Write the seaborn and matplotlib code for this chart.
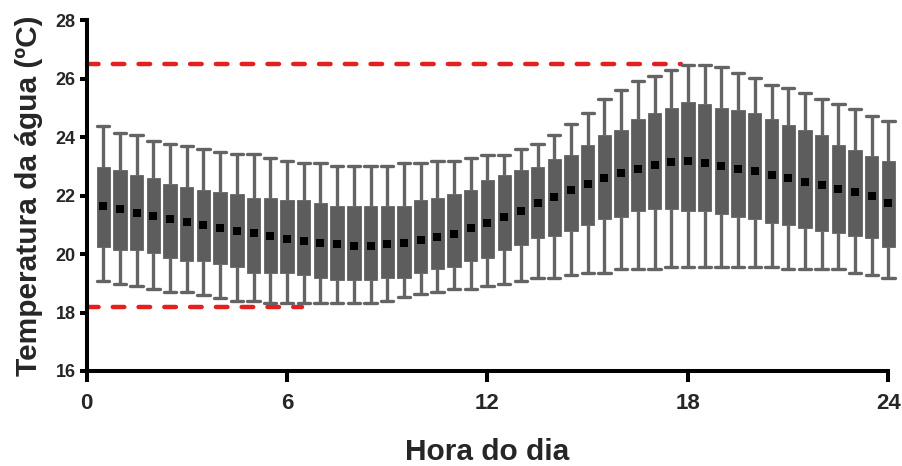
import numpy as np
import pandas as pd
import matplotlib
matplotlib.use("Agg")
import matplotlib.pyplot as plt
import seaborn as sns

# ---------------- data ----------------
hora = [0.5, 1.0, 1.5, 2.0, 2.5, 3.0, 3.5, 4.0, 4.5, 5.0,
        5.5, 6.0, 6.5, 7.0, 7.5, 8.0, 8.5, 9.0, 9.5, 10.0,
        10.5, 11.0, 11.5, 12.0, 12.5, 13.0, 13.5, 14.0, 14.5, 15.0,
        15.5, 16.0, 16.5, 17.0, 17.5, 18.0, 18.5, 19.0, 19.5, 20.0,
        20.5, 21.0, 21.5, 22.0, 22.5, 23.0, 23.5, 24.0]

bigode_inf = [19.09, 18.99, 18.91, 18.79, 18.69, 18.69, 18.60, 18.51, 18.40, 18.40,
              18.34, 18.34, 18.34, 18.34, 18.34, 18.34, 18.34, 18.40, 18.52, 18.62,
              18.69, 18.79, 18.79, 18.91, 18.99, 19.09, 19.19, 19.19, 19.28, 19.37,
              19.37, 19.48, 19.48, 19.48, 19.57, 19.57, 19.57, 19.57, 19.57, 19.57,
              19.57, 19.48, 19.48, 19.48, 19.48, 19.37, 19.28, 19.19]

quartil_1 = [20.24, 20.15, 20.15, 20.03, 19.86, 19.75, 19.75, 19.66, 19.57, 19.37,
             19.37, 19.37, 19.28, 19.19, 19.10, 19.10, 19.10, 19.17, 19.17, 19.37,
             19.49, 19.57, 19.75, 19.86, 20.15, 20.32, 20.54, 20.62, 20.80, 20.99,
             21.20, 21.28, 21.48, 21.56, 21.56, 21.47, 21.47, 21.38, 21.28, 21.20,
             21.08, 20.98, 20.90, 20.80, 20.72, 20.62, 20.54, 20.25]

mediana = [21.65, 21.54, 21.40, 21.31, 21.20, 21.10, 20.99, 20.90, 20.80, 20.71,
           20.62, 20.52, 20.44, 20.38, 20.33, 20.29, 20.29, 20.33, 20.39, 20.48,
           20.57, 20.70, 20.88, 21.07, 21.26, 21.49, 21.75, 21.96, 22.18, 22.39,
           22.60, 22.79, 22.92, 23.05, 23.16, 23.18, 23.11, 23.03, 22.92, 22.83,
           22.71, 22.59, 22.46, 22.35, 22.22, 22.12, 22.00, 21.75]

quartil_3 = [22.99, 22.89, 22.70, 22.61, 22.40, 22.31, 22.21, 22.13, 22.04, 21.93,
             21.93, 21.84, 21.84, 21.74, 21.64, 21.64, 21.64, 21.64, 21.64, 21.84,
             21.93, 22.04, 22.21, 22.52, 22.70, 22.89, 22.99, 23.27, 23.38, 23.75,
             24.06, 24.23, 24.64, 24.82, 25.01, 25.21, 25.12, 25.01, 24.92, 24.82,
             24.64, 24.43, 24.23, 24.06, 23.75, 23.56, 23.37, 23.17]

bigode_sup = [24.38, 24.15, 24.07, 23.87, 23.78, 23.69, 23.58, 23.50, 23.41, 23.41,
              23.29, 23.20, 23.12, 23.12, 23.01, 23.01, 23.01, 23.01, 23.12, 23.12,
              23.18, 23.18, 23.28, 23.38, 23.38, 23.58, 23.76, 24.07, 24.44, 24.84,
              25.32, 25.62, 25.91, 26.10, 26.31, 26.48, 26.48, 26.39, 26.21, 26.01,
              25.80, 25.70, 25.52, 25.32, 25.12, 24.95, 24.73, 24.55]

limite_valor = [26.5, 18.2]
limite_fim = [17.8, 6.45]

x_ticks = [0, 6, 12, 18, 24]
y_ticks = [16, 18, 20, 22, 24, 26, 28]

# ---------------- long table for seaborn ----------------
rows = []
for h, a, b, c, d, e in zip(hora, bigode_inf, quartil_1, mediana, quartil_3, bigode_sup):
    for v in (a, b, c, d, e):
        rows.append((h, v))
df = pd.DataFrame(rows, columns=["hora", "temp"])

sns.set_style("ticks")
plt.rcParams["font.family"] = ["Liberation Sans", "DejaVu Sans"]

fig = plt.figure(figsize=(9.02, 4.66), dpi=100)
ax = fig.add_axes([0.0959, 0.2039, 0.8891, 0.7525])

gray = "#5d5d5d"
sns.boxplot(data=df, x="hora", y="temp", native_scale=True, whis=(0, 100),
            width=0.8, color=gray, saturation=1, linecolor="#646464", linewidth=2.4,
            fliersize=0, boxprops=dict(linewidth=0.6),
            medianprops=dict(linewidth=0), capwidths=0.37, ax=ax, zorder=2)

sns.scatterplot(x=hora, y=mediana, marker="s", s=36, color="black",
                linewidth=0, zorder=5, legend=False, ax=ax)

for yv, fim in zip(limite_valor, limite_fim):
    ax.plot([0, fim], [yv, yv], color="#e41f1f", lw=3.2,
            linestyle=(0, (2.6, 3.2)), dash_capstyle="round", zorder=1)

ax.set_xlim(0, 24)
ax.set_ylim(16, 28)
for art in list(ax.patches) + list(ax.lines) + list(ax.collections):
    art.set_clip_on(False)

sns.despine(ax=ax)
for s in ("left", "bottom"):
    ax.spines[s].set_linewidth(2.9)
    ax.spines[s].set_color("black")

ax.set_xticks(x_ticks)
ax.set_xticklabels([str(t) for t in x_ticks], fontsize=16, fontweight="bold")
ax.set_yticks(y_ticks)
ax.set_yticklabels([str(t) for t in y_ticks], fontsize=13, fontweight="bold")
ax.tick_params(axis="x", length=8, width=2.9, color="black", pad=8)
ax.tick_params(axis="y", length=5, width=2.9, color="black", pad=3)

ax.set_xlabel("Hora do dia", fontsize=21.5, fontweight="bold", labelpad=17)
ax.set_ylabel("Temperatura da água (ºC)", fontsize=21.5, fontweight="bold",
              labelpad=9)
ax.grid(False)

fig.savefig("out.png", dpi=100, facecolor="white")
